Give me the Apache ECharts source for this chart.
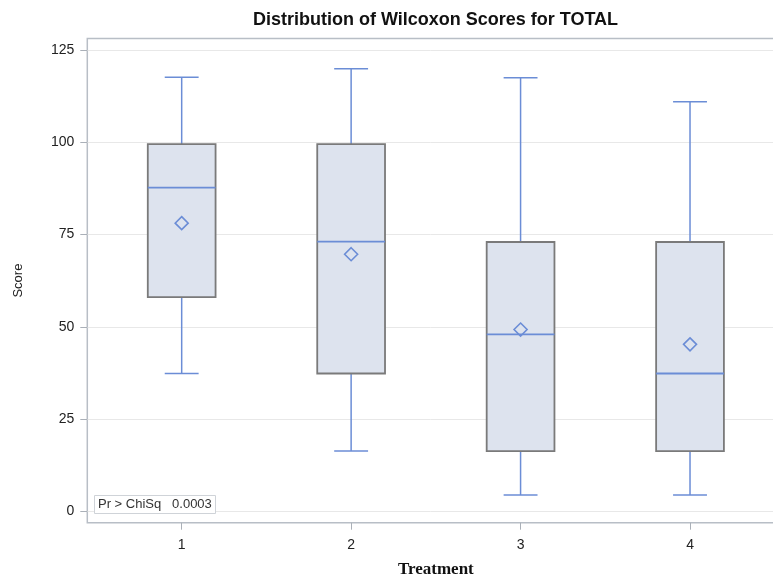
<!DOCTYPE html>
<html>
<head>
<meta charset="utf-8">
<script src="https://cdn.jsdelivr.net/npm/echarts@6/dist/echarts.min.js"></script>
<style>
html,body{margin:0;padding:0;background:#fff;}
#chart{width:773px;height:575px;}
</style>
</head>
<body>
<div id="chart"></div>
<script>
// ---- data ----
const treatments = ['1', '2', '3', '4'];
const treatmentX = [1, 2, 3, 4];
const whiskerLow = [37.4, 16.4, 4.5, 4.5];
const q1 = [58.1, 37.4, 16.4, 16.4];
const median = [87.7, 73.1, 48.0, 37.4];
const q3 = [99.5, 99.5, 73.0, 73.0];
const whiskerHigh = [117.6, 119.9, 117.5, 111.0];
const mean = [78.1, 69.7, 49.3, 45.3];
const yTicks = [0, 25, 50, 75, 100, 125];
const titleText = 'Distribution of Wilcoxon Scores for TOTAL';
const pValueText = 'Pr > ChiSq   0.0003';

const boxData = treatmentX.map((x, i) => [x, whiskerLow[i], q1[i], median[i], q3[i], whiskerHigh[i], mean[i]]);

const BLUE = '#6b8dd6';
const BOX_FILL = '#dde3ee';
const BOX_EDGE = '#7a7a7a';
const BOX_W = 0.4;
const CAP_W = 0.2;

function renderBox(params, api) {
  const x = api.value(0);
  const c = v => api.coord([x, v]);
  const pLo = c(api.value(1)), pQ1 = c(api.value(2)), pMed = c(api.value(3)),
        pQ3 = c(api.value(4)), pHi = c(api.value(5)), pMean = c(api.value(6));
  const cx = pMed[0];
  const hb = api.size([BOX_W, 0])[0] / 2;
  const hc = api.size([CAP_W, 0])[0] / 2;
  const wStyle = { stroke: BLUE, lineWidth: 1.5, fill: null };
  const d = 6.5;
  return {
    type: 'group',
    children: [
      { type: 'line', shape: { x1: cx, y1: pHi[1], x2: cx, y2: pQ3[1] }, style: wStyle },
      { type: 'line', shape: { x1: cx, y1: pQ1[1], x2: cx, y2: pLo[1] }, style: wStyle },
      { type: 'line', shape: { x1: cx - hc, y1: pHi[1], x2: cx + hc, y2: pHi[1] }, style: wStyle },
      { type: 'line', shape: { x1: cx - hc, y1: pLo[1], x2: cx + hc, y2: pLo[1] }, style: wStyle },
      { type: 'rect', shape: { x: cx - hb, y: pQ3[1], width: 2 * hb, height: pQ1[1] - pQ3[1] },
        style: { fill: BOX_FILL, stroke: BOX_EDGE, lineWidth: 1.8 } },
      { type: 'line', shape: { x1: cx - hb, y1: pMed[1], x2: cx + hb, y2: pMed[1] }, style: { stroke: BLUE, lineWidth: 1.8 } },
      { type: 'polygon', shape: { points: [[pMean[0], pMean[1] - d], [pMean[0] + d, pMean[1]], [pMean[0], pMean[1] + d], [pMean[0] - d, pMean[1]]] },
        style: { fill: 'none', stroke: BLUE, lineWidth: 1.6 } }
    ]
  };
}

const chart = echarts.init(document.getElementById('chart'), null, { renderer: 'canvas' });
chart.setOption({
  backgroundColor: '#fff',
  animation: false,
  title: [{
    text: pValueText,
    left: 94,
    top: 495,
    padding: [3, 4, 3, 4],
    borderColor: '#cfd3d8',
    borderWidth: 1,
    backgroundColor: '#fff',
    textStyle: { fontFamily: 'Liberation Sans, Arial, sans-serif', fontSize: 13, fontWeight: 'normal', color: '#333' }
  }],
  graphic: [{
    type: 'text',
    x: 435.5,
    y: 20,
    style: {
      text: titleText,
      textAlign: 'center',
      textVerticalAlign: 'middle',
      fontFamily: 'Liberation Sans, Arial, sans-serif',
      fontSize: 18,
      fontWeight: 'bold',
      fill: '#111'
    }
  }],
  grid: {
    left: 87.3, right: -11.4, top: 38.5, bottom: 52.3,
    outerBoundsMode: 'none',
    containLabel: false,
    show: true, borderColor: '#b8bec6', borderWidth: 1.5, backgroundColor: 'transparent'
  },
  xAxis: {
    type: 'value',
    min: 0.443, max: 4.557,
    name: 'Treatment',
    nameLocation: 'middle',
    nameGap: 38,
    nameTextStyle: { fontFamily: 'Liberation Serif, Times New Roman, serif', fontSize: 17, fontWeight: 'bold', color: '#111' },
    axisLine: { show: false, onZero: false },
    axisTick: { show: true, inside: false, length: 7, lineStyle: { color: '#aab0b8' }, customValues: treatmentX },
    axisLabel: {
      customValues: treatmentX,
      formatter: v => treatments[treatmentX.indexOf(v)],
      fontFamily: 'Liberation Sans, Arial, sans-serif', fontSize: 14, color: '#222', margin: 15
    },
    splitLine: { show: false }
  },
  yAxis: {
    type: 'value',
    min: -3, max: 128.1,
    name: 'Score',
    nameLocation: 'middle',
    nameRotate: 90,
    nameGap: 62,
    nameTextStyle: { fontFamily: 'Liberation Sans, Arial, sans-serif', fontSize: 13, color: '#222' },
    axisLine: { show: false, onZero: false },
    axisTick: { show: true, inside: false, length: 7, lineStyle: { color: '#aab0b8' }, customValues: yTicks },
    axisLabel: { customValues: yTicks, fontFamily: 'Liberation Sans, Arial, sans-serif', fontSize: 14, color: '#222', margin: 13 },
    splitLine: { show: true, lineStyle: { color: '#e8e8e8', width: 1 } }
  },
  series: [{
    type: 'custom',
    renderItem: renderBox,
    data: boxData,
    encode: { x: 0, y: [1, 2, 3, 4, 5, 6] },
    z: 3
  }]
});
</script>
</body>
</html>
